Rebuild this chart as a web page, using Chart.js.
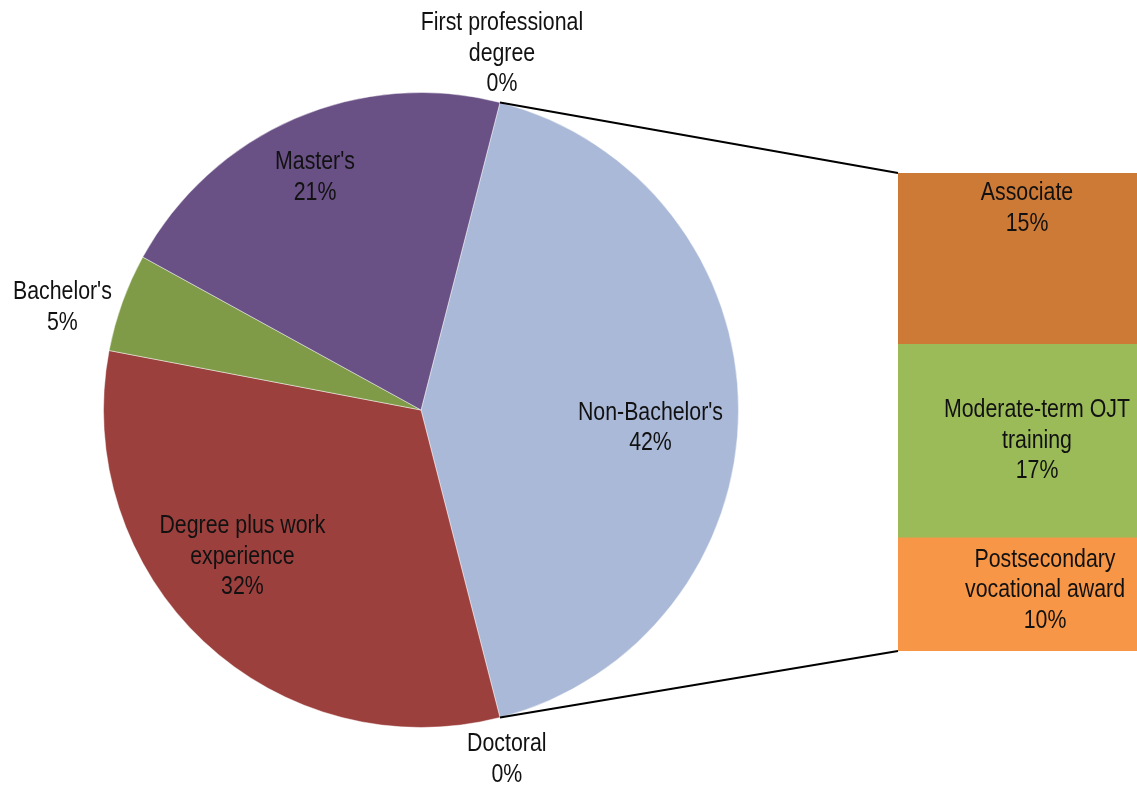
<!DOCTYPE html>
<html lang="en">
<head>
    <meta charset="UTF-8">
    <title>Education and training requirements</title>
    <script src="https://cdn.jsdelivr.net/npm/chart.js"></script>
    <style>
        html, body {
            margin: 0;
            padding: 0;
            background-color: #ffffff;
            overflow: hidden;
        }
        #wrap {
            position: relative;
            width: 1137px;
            height: 787px;
            overflow: hidden;
        }
        #pieChart {
            position: absolute;
            left: 0;
            top: 0;
        }
        #barChart {
            position: absolute;
            left: 898px;
            top: 173px;
        }
    </style>
</head>
<body>
    <div id="wrap">
        <canvas id="pieChart" width="1137" height="787"></canvas>
        <canvas id="barChart" width="278" height="478"></canvas>
    </div>

    <script>
        // Pie slices, clockwise from the split-off slice
        const pieCategories = ["Non-Bachelor's", 'Doctoral', 'Degree plus work experience', "Bachelor's", "Master's", 'First professional degree'];
        const pieValues = [42, 0, 32, 5, 21, 0];
        const pieColors = ['#aab9d7', '#9c403e', '#9c403e', '#7f9b48', '#695085', '#695085'];

        // Breakdown of the Non-Bachelor's slice, top to bottom
        const barCategories = ['Associate', 'Moderate-term OJT training', 'Postsecondary vocational award'];
        const barValues = [15, 17, 10];
        const barColors = ['#cd7a37', '#9bbb59', '#f79646'];

        // no narrow face installed, so squeeze Liberation Sans horizontally
        const FONT = "26px 'Liberation Sans', Arial, sans-serif";
        const SQUEEZE = 0.82;
        const LINE_H = 30.5;
        const WRAP_W = 190;

        // label spot per slice: turn = degrees from mid-angle, dist = fraction of radius
        const pieLabelSpots = [
            { turn: 4.5, dist: 0.725 },
            { turn: 0.6, dist: 1.133 },
            { turn: 7.4, dist: 0.728 },
            { turn: -3.8, dist: 1.175 },
            { turn: -1.1, dist: 0.805 },
            { turn: -1.6, dist: 1.151 }
        ];
        const barLabelShift = [
            { dx: -10, dy: -50 },
            { dx: 0, dy: 0 },
            { dx: 8, dy: -4 }
        ];

        function textW(ctx, s) {
            return ctx.measureText(s).width * SQUEEZE;
        }

        function wrapText(ctx, text, maxW) {
            const words = text.split(' ');
            const lines = [];
            let cur = '';
            words.forEach(w => {
                const test = cur ? cur + ' ' + w : w;
                if (cur && textW(ctx, test) > maxW) {
                    lines.push(cur);
                    cur = w;
                } else {
                    cur = test;
                }
            });
            if (cur) lines.push(cur);
            return lines;
        }

        function drawBlock(ctx, lines, cx, cy) {
            const top = cy - (lines.length - 1) * LINE_H / 2;
            lines.forEach((l, i) => {
                ctx.save();
                ctx.translate(cx, top + i * LINE_H);
                ctx.scale(SQUEEZE, 1);
                ctx.fillText(l, 0, 0);
                ctx.restore();
            });
        }

        function labelStyle(ctx) {
            ctx.font = FONT;
            ctx.fillStyle = '#111111';
            ctx.textAlign = 'center';
            ctx.textBaseline = 'middle';
        }

        const barTotal = barValues.reduce((a, b) => a + b, 0);

        const barLabels = {
            id: 'barLabels',
            afterDatasetsDraw(chart) {
                const ctx = chart.ctx;
                ctx.save();
                labelStyle(ctx);
                chart.data.datasets.forEach((ds, i) => {
                    const el = chart.getDatasetMeta(i).data[0];
                    const lines = wrapText(ctx, barCategories[i], WRAP_W);
                    lines.push(barValues[i] + '%');
                    const s = barLabelShift[i];
                    drawBlock(ctx, lines, el.x + s.dx, (el.y + el.base) / 2 + s.dy);
                });
                ctx.restore();
            }
        };

        const barChart = new Chart(document.getElementById('barChart'), {
            type: 'bar',
            data: {
                labels: [''],
                datasets: barCategories.map((c, i) => ({
                    label: c,
                    data: [barValues[i]],
                    backgroundColor: barColors[i],
                    borderWidth: 0,
                    barPercentage: 1,
                    categoryPercentage: 1
                }))
            },
            options: {
                responsive: false,
                animation: false,
                events: [],
                layout: { padding: 0 },
                plugins: {
                    legend: { display: false },
                    tooltip: { enabled: false }
                },
                scales: {
                    x: { display: false, stacked: true },
                    y: { display: false, stacked: true, reverse: true, min: 0, max: barTotal }
                }
            },
            plugins: [barLabels]
        });

        const pieExtras = {
            id: 'pieExtras',
            afterDatasetsDraw(chart) {
                const ctx = chart.ctx;
                const arcs = chart.getDatasetMeta(0).data;

                // connector lines from the split slice to the bar's corners
                const split = arcs[0];
                const barCanvas = barChart.canvas;
                const n = barChart.data.datasets.length;
                const topEl = barChart.getDatasetMeta(0).data[0];
                const botEl = barChart.getDatasetMeta(n - 1).data[0];
                const barLeft = barCanvas.offsetLeft + topEl.x - topEl.width / 2;
                const barTop = barCanvas.offsetTop + Math.min(topEl.y, topEl.base);
                const barBottom = barCanvas.offsetTop + Math.max(botEl.y, botEl.base);

                ctx.save();
                ctx.strokeStyle = '#000000';
                ctx.lineWidth = 2;
                ctx.beginPath();
                ctx.moveTo(split.x + Math.cos(split.startAngle) * split.outerRadius,
                           split.y + Math.sin(split.startAngle) * split.outerRadius);
                ctx.lineTo(barLeft, barTop);
                ctx.moveTo(split.x + Math.cos(split.endAngle) * split.outerRadius,
                           split.y + Math.sin(split.endAngle) * split.outerRadius);
                ctx.lineTo(barLeft, barBottom);
                ctx.stroke();

                // slice labels
                labelStyle(ctx);
                arcs.forEach((arc, i) => {
                    const spot = pieLabelSpots[i];
                    const a = (arc.startAngle + arc.endAngle) / 2 + spot.turn * Math.PI / 180;
                    const r = arc.outerRadius * spot.dist;
                    const lines = wrapText(ctx, pieCategories[i], WRAP_W);
                    lines.push(pieValues[i] + '%');
                    drawBlock(ctx, lines, arc.x + Math.cos(a) * r, arc.y + Math.sin(a) * r);
                });
                ctx.restore();
            }
        };

        new Chart(document.getElementById('pieChart'), {
            type: 'pie',
            data: {
                labels: pieCategories,
                datasets: [{
                    data: pieValues,
                    backgroundColor: pieColors,
                    borderColor: 'rgba(255,255,255,0.45)',
                    borderWidth: 1,
                    hoverOffset: 0,
                    offset: 0
                }]
            },
            options: {
                responsive: false,
                animation: false,
                events: [],
                rotation: 14.4,
                layout: { padding: { left: 103, right: 398, top: 92, bottom: 59 } },
                plugins: {
                    legend: { display: false },
                    tooltip: { enabled: false }
                }
            },
            plugins: [pieExtras]
        });
    </script>
</body>
</html>
